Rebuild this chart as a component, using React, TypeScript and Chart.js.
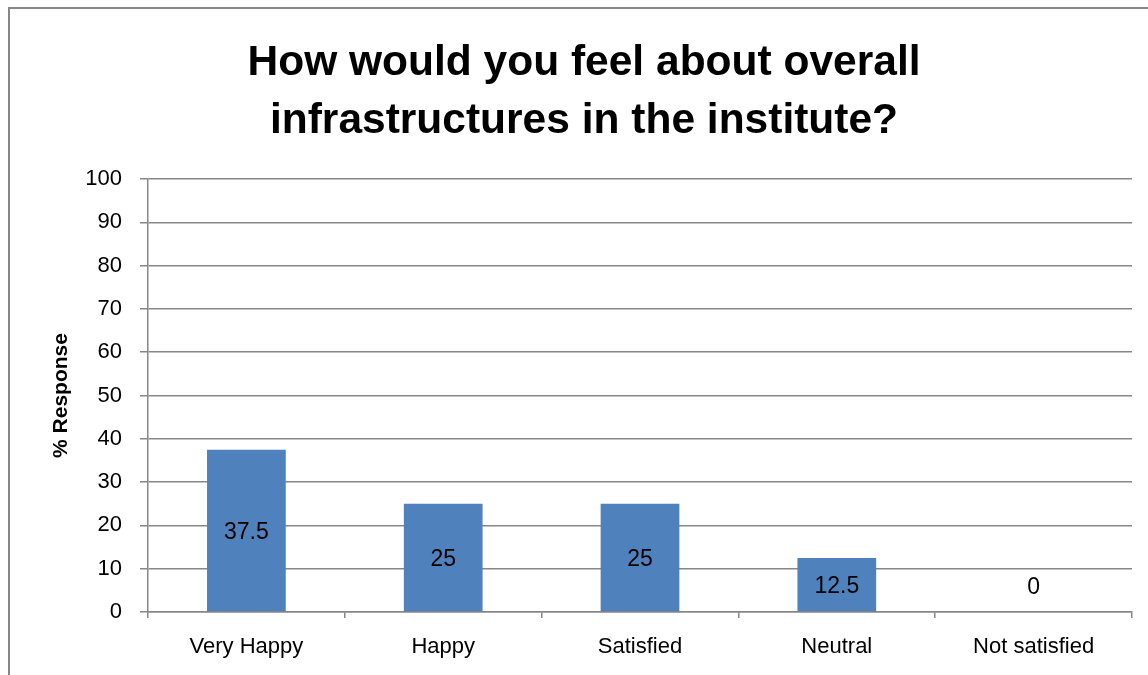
import React, { useEffect, useRef } from "react";
import { Chart, registerables } from "chart.js";

Chart.register(...registerables);

const titleLines = ["How would you feel about overall", "infrastructures in the institute?"];
const categories = ["Very Happy", "Happy", "Satisfied", "Neutral", "Not satisfied"];
const responses = [37.5, 25, 25, 12.5, 0];
const yAxisTitle = "% Response";
const yMin = 0;
const yMax = 100;
const yStep = 10;

const W = 1148;
const H = 675;
const GRID = "#878787";
const FONT = "'Liberation Sans', Arial, sans-serif";

export default function App() {
  const ref = useRef<HTMLCanvasElement | null>(null);

  useEffect(() => {
    const canvas = ref.current;
    if (!canvas) return;

    const decor = {
      id: "decor",
      beforeDraw(chart: any) {
        const ctx = chart.ctx;
        ctx.save();
        ctx.fillStyle = "#ffffff";
        ctx.fillRect(0, 0, W, H);
        ctx.strokeStyle = GRID;
        ctx.lineWidth = 2;
        ctx.beginPath();
        ctx.moveTo(9, H);
        ctx.lineTo(9, 8);
        ctx.lineTo(W, 8);
        ctx.stroke();
        ctx.fillStyle = "#000000";
        ctx.font = `bold 42.5px ${FONT}`;
        ctx.textAlign = "center";
        ctx.textBaseline = "alphabetic";
        ctx.fillText(titleLines[0], 584, 75);
        ctx.fillText(titleLines[1], 584, 133);
        ctx.restore();
      },
      afterDatasetsDraw(chart: any) {
        const ctx = chart.ctx;
        const meta = chart.getDatasetMeta(0);
        ctx.save();
        ctx.fillStyle = "#000000";
        ctx.font = `23px ${FONT}`;
        ctx.textAlign = "center";
        ctx.textBaseline = "middle";
        meta.data.forEach((bar: any, i: number) => {
          const mid = (bar.y + bar.base) / 2;
          const y = Math.min(mid, bar.base - 26);
          ctx.fillText(String(responses[i]), bar.x, y + 2);
        });
        ctx.restore();
      },
    };

    const chart = new Chart(canvas, {
      type: "bar",
      data: {
        labels: categories,
        datasets: [
          {
            data: responses,
            backgroundColor: "#4F81BD",
            borderWidth: 0,
            categoryPercentage: 1,
            barPercentage: 0.4,
          },
        ],
      },
      options: {
        responsive: false,
        animation: false,
        devicePixelRatio: 1,
        layout: { padding: { left: 0, top: 179, right: 16, bottom: 0 } },
        plugins: {
          legend: { display: false },
          title: { display: false },
          tooltip: { enabled: false },
        },
        scales: {
          x: {
            afterFit: (s: any) => {
              s.height = 63;
            },
            grid: {
              drawOnChartArea: false,
              drawTicks: true,
              tickLength: 6,
              color: GRID,
              lineWidth: 1.5,
            },
            border: { display: true, color: GRID, width: 1.5 },
            ticks: {
              color: "#000000",
              font: { family: FONT, size: 22 },
              padding: 16,
              maxRotation: 0,
              autoSkip: false,
            },
          },
          y: {
            min: yMin,
            max: yMax,
            afterFit: (s: any) => {
              s.width = 148;
            },
            grid: {
              color: GRID,
              lineWidth: 1.5,
              tickLength: 8,
              drawTicks: true,
            },
            border: { display: true, color: GRID, width: 1.5 },
            ticks: {
              stepSize: yStep,
              color: "#000000",
              font: { family: FONT, size: 22 },
              padding: 18,
            },
            title: {
              display: true,
              text: yAxisTitle,
              color: "#000000",
              font: { family: FONT, size: 21, weight: "bold" },
              padding: { top: 49, bottom: 0 },
            },
          },
        },
      },
      plugins: [decor],
    });

    return () => chart.destroy();
  }, []);

  return (
    <div style={{ position: "absolute", left: 0, top: 0, width: W, height: H }}>
      <canvas ref={ref} width={W} height={H} style={{ width: W, height: H, display: "block" }} />
    </div>
  );
}
